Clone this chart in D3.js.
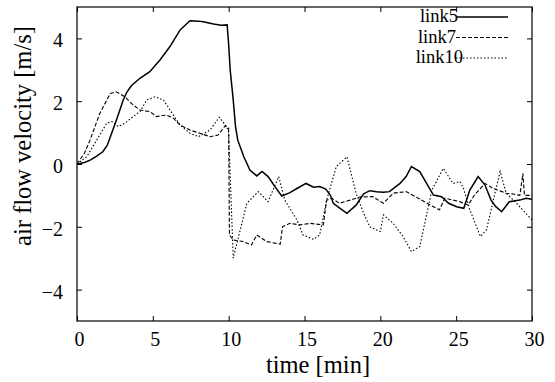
<!DOCTYPE html>
<html><head><meta charset="utf-8">
<script src="https://cdn.jsdelivr.net/npm/d3@7"></script>
<style>
html,body{margin:0;padding:0;background:#fff;}
text{font-family:"Liberation Serif","Times New Roman",serif;fill:#000;}
</style></head>
<body><svg id="c" width="555" height="382"></svg>
<script>
const xTicks = [0, 5, 10, 15, 20, 25, 30];
const yTicks = [-4, -2, 0, 2, 4];
const seriesNames = ["link5", "link7", "link10"];

const link5T = [0,0.5,0.9,1.3,1.7,2.0,2.2,2.6,3.05,3.3,3.6,4.15,4.8,5.47,6.13,6.8,7.2,7.45,8.0,8.33,9.0,9.5,9.9,10.0,10.1,10.3,10.45,10.6,11.0,11.4,11.85,12.2,12.6,13.05,13.5,14.04,14.5,15.1,15.6,16.0,16.4,16.7,16.9,17.3,17.8,18.4,18.9,19.3,19.75,20.2,20.6,21.3,21.7,22.05,22.6,23.05,23.5,24.04,24.5,25.03,25.5,25.9,26.45,26.9,27.3,27.6,28.0,28.5,29.2,29.6,30];
const link5V = [0,0.05,0.13,0.25,0.39,0.6,0.87,1.4,2.04,2.3,2.5,2.73,2.94,3.31,3.74,4.27,4.45,4.56,4.55,4.53,4.46,4.42,4.43,3.8,3.0,2.04,1.2,0.76,0.23,-0.19,-0.38,-0.24,-0.4,-0.72,-1.02,-0.91,-0.78,-0.62,-0.74,-0.72,-0.8,-0.99,-1.25,-1.4,-1.57,-1.31,-0.95,-0.85,-0.88,-0.9,-0.88,-0.62,-0.4,-0.08,-0.24,-0.62,-0.99,-1.04,-1.25,-1.36,-1.41,-0.83,-0.4,-0.67,-1.15,-1.35,-1.52,-1.2,-1.15,-1.09,-1.12];

const link7T = [0,0.5,0.86,1.5,2.2,2.6,3.16,3.7,4.15,4.8,5.25,5.9,6.35,6.8,7.45,8.1,8.77,9.3,9.76,10.0,10.05,10.3,10.96,11.5,11.85,12.5,13.4,13.55,14.04,14.7,15.36,16.24,16.46,16.8,17.3,18.0,18.65,19.5,20.2,20.85,21.7,22.5,23.3,23.9,24.25,25.25,25.8,26.2,26.9,27.44,28.3,28.7,29.2,29.4,29.5,30];
const link7V = [0,0.35,0.76,1.61,2.25,2.3,2.14,1.88,1.72,1.67,1.51,1.56,1.46,1.24,1.08,0.98,0.87,0.92,1.21,1.15,-2.26,-2.42,-2.47,-2.58,-2.26,-2.47,-2.55,-2.0,-1.89,-1.94,-1.89,-1.94,-1.15,-1.09,-1.25,-1.15,-1.05,-1.04,-1.25,-0.93,-0.88,-1.09,-1.31,-1.46,-1.09,-1.2,-1.31,-0.99,-0.62,-0.78,-0.93,-0.95,-1.0,-0.3,-1.0,-1.0];

const link10T = [0,0.64,1.3,1.96,2.3,2.73,3.16,3.7,4.15,4.6,5.14,5.7,6.13,6.8,7.45,8.0,8.77,9.38,9.87,10.0,10.3,10.6,11.2,11.95,12.6,13.3,13.7,14.5,14.9,15.6,16.0,16.46,17.1,17.8,18.4,18.9,19.3,20.0,20.2,20.85,21.5,22.05,22.6,23.4,24.15,24.8,25.25,25.5,25.9,26.6,27.0,27.45,27.9,28.3,28.98,30];
const link10V = [0,0.23,0.76,1.3,1.35,1.19,1.3,1.51,1.67,2.04,2.14,2.04,1.72,1.24,0.98,0.87,1.08,1.49,1.19,1.0,-3.0,-2.42,-1.25,-0.88,-1.2,-0.4,-1.15,-1.78,-2.26,-2.4,-2.26,-1.15,-0.08,0.23,-0.93,-1.57,-2.0,-2.15,-1.62,-1.89,-2.31,-2.79,-2.63,-0.83,-0.14,-0.62,-0.56,-0.8,-1.46,-2.31,-2.1,-1.15,-0.24,-0.93,-1.25,-1.78];

const svg = d3.select("#c");
const L = 77, R = 532, T = 7, B = 321;
const x = d3.scaleLinear().domain([0, 30]).range([L, R]);
const y = d3.scaleLinear().domain([-5, 5]).range([B, T]);

// frame
svg.append("rect").attr("x", L).attr("y", T).attr("width", R - L).attr("height", B - T)
  .attr("fill", "none").attr("stroke", "#000").attr("stroke-width", 1.2);

// axes with inward ticks
const tk = 5;
svg.append("g").attr("transform", `translate(0,${B})`)
  .call(d3.axisBottom(x).tickValues(xTicks).tickSize(-tk).tickPadding(25).tickFormat(d3.format("d")))
  .call(g => g.select(".domain").remove())
  .call(g => g.selectAll("text").attr("font-size", 20).attr("dx", 2).attr("dy", 0));
svg.append("g").attr("transform", `translate(0,${T})`)
  .call(d3.axisTop(x).tickValues(xTicks).tickSize(-tk).tickFormat(""))
  .call(g => g.select(".domain").remove());
svg.append("g").attr("transform", `translate(${L},0)`)
  .call(d3.axisLeft(y).tickValues(yTicks).tickSize(-tk).tickPadding(tk + 9).tickFormat(d3.format("d")))
  .call(g => g.select(".domain").remove())
  .call(g => g.selectAll("text").attr("font-size", 20).attr("dy", "0.42em"));
svg.append("g").attr("transform", `translate(${R},0)`)
  .call(d3.axisRight(y).tickValues(yTicks).tickSize(-tk).tickFormat(""))
  .call(g => g.select(".domain").remove());
svg.selectAll(".tick line").attr("stroke", "#000");
svg.selectAll(".tick text").attr("font-family", "Liberation Serif, Times New Roman, serif").attr("fill", "#000");

// titles
svg.append("text").attr("x", 318).attr("y", 373).attr("text-anchor", "middle")
  .attr("font-size", 24.5).text("time [min]");
svg.append("text").attr("transform", `translate(31,136) rotate(-90)`).attr("text-anchor", "middle")
  .attr("font-size", 24.5).text("air flow velocity [m/s]");

// series
const series = [
  {name: seriesNames[0], t: link5T, v: link5V, dash: null, w: 1.5},
  {name: seriesNames[1], t: link7T, v: link7V, dash: "4,2", w: 1.1},
  {name: seriesNames[2], t: link10T, v: link10V, dash: "1.5,2", w: 1.1}
];
const line = d3.line().x(d => x(d[0])).y(d => y(d[1]));
svg.append("clipPath").attr("id", "pc").append("rect")
  .attr("x", L).attr("y", T).attr("width", R - L).attr("height", B - T);
series.forEach(s => {
  svg.append("path").attr("clip-path", "url(#pc)")
    .attr("d", line(d3.zip(s.t, s.v)))
    .attr("fill", "none").attr("stroke", "#000").attr("stroke-width", s.w)
    .attr("stroke-dasharray", s.dash);
});

// legend
const legY = [17, 37.5, 58];
const legEnd = [458, 456, 463];
series.forEach((s, i) => {
  svg.append("line").attr("x1", 456).attr("x2", 508).attr("y1", legY[i]).attr("y2", legY[i])
    .attr("stroke", "#000").attr("stroke-width", s.w).attr("stroke-dasharray", s.dash);
  svg.append("text").attr("x", legEnd[i]).attr("y", legY[i] + 5)
    .attr("text-anchor", "end").attr("font-size", 18.5).text(s.name);
});
</script></body></html>
